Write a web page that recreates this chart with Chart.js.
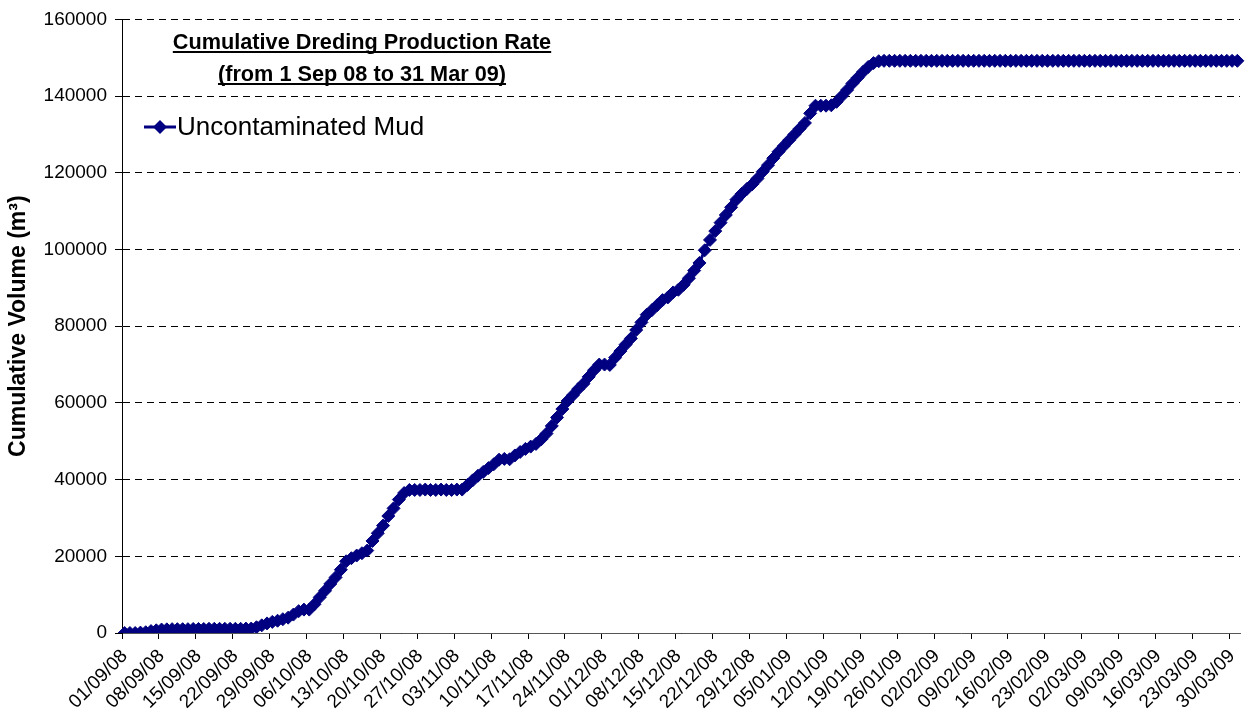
<!DOCTYPE html>
<html lang="en">
<head>
<meta charset="UTF-8">
<title>Cumulative Dredging Production Rate</title>
<script src="https://cdn.jsdelivr.net/npm/chart.js@4.4.1/dist/chart.umd.min.js"></script>
<style>
  html, body { margin: 0; padding: 0; background: #fff; }
  #wrap { width: 1248px; height: 722px; position: relative; }
</style>
</head>
<body>
<div id="wrap"><canvas id="myChart" width="1248" height="722"></canvas></div>
<script>
// daily categories, 1 Sep 08 .. 31 Mar 09
var startDate = new Date(2008, 8, 1)
var dayCount = 212
var dates = []
for (var d = 0; d < dayCount; d++) {
  var dt = new Date(startDate.getFullYear(), startDate.getMonth(), startDate.getDate() + d)
  var dd = String(dt.getDate()).padStart(2, "0")
  var mm = String(dt.getMonth() + 1).padStart(2, "0")
  var yy = String(dt.getFullYear()).slice(2)
  dates.push(dd + "/" + mm + "/" + yy)
}

// cumulative volume (m3)
var uncontaminatedMud = [
  0, 0, 0, 100, 200, 500, 700, 900,
  950, 1000, 1000, 1000, 1000, 1050, 1050, 1050, 1100, 1100, 1100, 1100, 1100, 1100, 1100, 1150, 1150,
  1500, 2000, 2500, 2900, 3200, 3600, 4000, 4800, 5700, 6100, 6100,
  7500, 9300, 11000, 12800, 14500, 16500, 18700, 19500, 20200, 20800,
  21500, 24000, 26000, 28000, 30500, 32500, 34800, 36500, 37300,
  37300, 37300, 37400, 37300, 37300, 37400, 37300, 37300, 37400, 37400,
  38600, 39800, 41000, 42000, 43000, 44000, 45200, 45400, 45300,
  46300, 47200, 48000, 48600, 49300, 50500, 52000, 54000, 56200, 58400,
  60500, 62000, 63600, 65000, 66800, 68500, 70000, 70000, 69900,
  71800, 73500, 75200, 76800, 79000, 81000, 83000, 84200, 85500, 86800,
  87500, 88800, 89500, 90800, 92500, 94500, 96500, 99800, 102500, 104800,
  107000, 109000, 111000, 113000, 114500, 115800, 117000, 118500, 120300, 122000,
  123800, 125500, 127000, 128500, 130000, 131500, 133000, 135500,
  137500, 137500, 137500, 137600, 138500, 140000, 141600, 143300, 144800, 146300, 147600, 148600, 149100,
  149200, 149200, 149200, 149200, 149200, 149200, 149200, 149200, 149200, 149200,
  149200, 149200, 149200, 149200, 149200, 149200, 149200, 149200, 149200, 149200,
  149200, 149200, 149200, 149200, 149200, 149200, 149200, 149200, 149200, 149200,
  149200, 149200, 149200, 149200, 149200, 149200, 149200, 149200, 149200, 149200,
  149200, 149200, 149200, 149200, 149200, 149200, 149200, 149200, 149200, 149200,
  149200, 149200, 149200, 149200, 149200, 149200, 149200, 149200, 149200, 149200,
  149200, 149200, 149200, 149200, 149200, 149200, 149200, 149200
]

var yTicks = [0, 20000, 40000, 60000, 80000, 100000, 120000, 140000, 160000]
var labelStep = 7
var titleLines = ["Cumulative Dreding Production Rate", "(from 1 Sep 08 to 31 Mar 09)"]
var seriesName = "Uncontaminated Mud"
var yTitle = "Cumulative Volume (m\u00B3)"

var navy = "#000080"
var fontName = "'Liberation Sans', Arial, sans-serif"

// title + legend sit inside the plot area, so draw them here
var overlay = {
  id: "overlay",
  afterDraw: function (chart) {
    var ctx = chart.ctx
    ctx.save()
    ctx.fillStyle = "#000"
    ctx.strokeStyle = "#000"
    ctx.textAlign = "center"
    ctx.textBaseline = "alphabetic"
    ctx.font = "bold 21.7px " + fontName
    var cx = 362
    var baselines = [49, 81]
    titleLines.forEach(function (t, i) {
      ctx.fillText(t, cx, baselines[i])
      var w = ctx.measureText(t).width
      ctx.lineWidth = 2
      ctx.beginPath()
      ctx.moveTo(cx - w / 2, baselines[i] + 3)
      ctx.lineTo(cx + w / 2, baselines[i] + 3)
      ctx.stroke()
    })

    // legend
    var ly = 127
    ctx.strokeStyle = navy
    ctx.fillStyle = navy
    ctx.lineWidth = 3
    ctx.beginPath()
    ctx.moveTo(144, ly)
    ctx.lineTo(176, ly)
    ctx.stroke()
    ctx.beginPath()
    ctx.moveTo(160, ly - 7)
    ctx.lineTo(167, ly)
    ctx.lineTo(160, ly + 7)
    ctx.lineTo(153, ly)
    ctx.closePath()
    ctx.fill()
    ctx.fillStyle = "#000"
    ctx.textAlign = "left"
    ctx.textBaseline = "middle"
    ctx.font = "26px " + fontName
    ctx.fillText(seriesName, 177, ly + 1)
    ctx.restore()
  }
}

new Chart("myChart", {
  type: "line",
  data: {
    labels: dates,
    datasets: [{
      label: seriesName,
      data: uncontaminatedMud,
      borderColor: navy,
      backgroundColor: navy,
      borderWidth: 3,
      pointStyle: "rectRot",
      pointRadius: 6.5,
      pointBorderWidth: 1,
      pointBorderColor: navy,
      pointBackgroundColor: navy,
      tension: 0
    }]
  },
  options: {
    responsive: false,
    animation: false,
    layout: { padding: { top: 19, right: 8, left: 0, bottom: 0 } },
    plugins: {
      legend: { display: false },
      title: { display: false },
      tooltip: { enabled: false }
    },
    scales: {
      x: {
        type: "category",
        offset: true,
        grid: {
          offset: true,
          drawOnChartArea: false,
          drawTicks: true,
          tickLength: 6,
          tickColor: function (c) { return c.index % labelStep === 0 ? "#000" : "rgba(0,0,0,0)" }
        },
        border: { display: true, color: "#555", width: 1 },
        ticks: {
          autoSkip: false,
          maxRotation: 45,
          minRotation: 45,
          padding: 6,
          color: "#000",
          font: { family: fontName, size: 19 },
          callback: function (v, i) { return i % labelStep === 0 ? dates[i] : "" }
        },
        afterFit: function (s) { s.height = 89; s.paddingRight = 0 }
      },
      y: {
        min: 0,
        max: 160000,
        afterBuildTicks: function (s) { s.ticks = yTicks.map(function (v) { return { value: v } }) },
        grid: {
          color: "#000",
          lineWidth: 1,
          drawTicks: true,
          tickLength: 7,
          tickColor: "#000",
          tickBorderDash: []
        },
        border: { display: true, color: "#000", width: 1, dash: [7, 5] },
        ticks: {
          padding: 8,
          color: "#000",
          font: { family: fontName, size: 19 },
          callback: function (v) { return String(v) }
        },
        title: {
          display: true,
          text: yTitle,
          color: "#000",
          font: { family: fontName, size: 23, weight: "bold" },
          padding: { top: 5, bottom: 0 }
        },
        afterFit: function (s) { s.width = 122 }
      }
    }
  },
  plugins: [overlay]
})
</script>
</body>
</html>
